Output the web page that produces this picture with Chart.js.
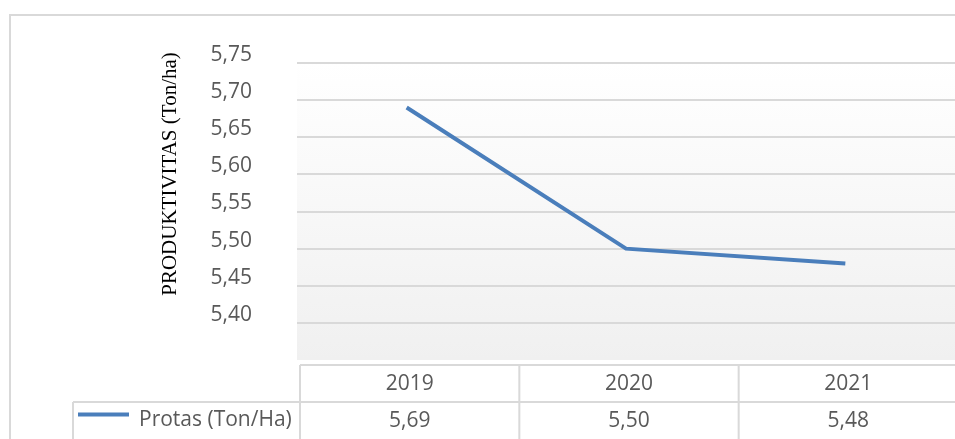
<!DOCTYPE html>
<html>
<head>
<meta charset="utf-8">
<script src="https://cdn.jsdelivr.net/npm/chart.js@4/dist/chart.umd.min.js"></script>
<style>
  html, body { margin: 0; padding: 0; background: #ffffff; }
  canvas { display: block; }
</style>
</head>
<body>
<canvas id="chart" width="955" height="439"></canvas>
<script>
// Productivity per year (Ton/Ha)
const years = ['2019', '2020', '2021'];
const protas = [5.69, 5.50, 5.48];
const seriesName = 'Protas (Ton/Ha)';
const axisTitle = 'PRODUKTIVITAS (Ton/ha)';
const yMin = 5.35;
const yMax = 5.75;
const yStep = 0.05;

const LINE_BLUE = '#4a7ebb';
const GRID = '#d9d9d9';
const TEXT = '#595959';
const SANS = '"Open Sans", "Liberation Sans", sans-serif';

const fmt = v => v.toFixed(2).replace('.', ',');

// Plot background gradient, outer frame, data table with legend key, and axis title
const framePlugin = {
  id: 'frame',
  beforeDraw(chart) {
    const { ctx, chartArea: a } = chart;
    const g = ctx.createLinearGradient(0, a.top, 0, a.bottom);
    g.addColorStop(0, '#ffffff');
    g.addColorStop(1, '#f0f0f0');
    ctx.save();
    ctx.fillStyle = g;
    ctx.fillRect(a.left, a.top, a.right - a.left, a.bottom - a.top);
    ctx.restore();
  },
  afterDraw(chart) {
    const { ctx, chartArea: a, scales: { x } } = chart;
    const W = chart.width, H = chart.height;
    ctx.save();

    // outer frame
    ctx.strokeStyle = GRID;
    ctx.lineWidth = 2;
    ctx.beginPath();
    ctx.moveTo(10, H);
    ctx.lineTo(10, 15);
    ctx.lineTo(W, 15);
    ctx.stroke();

    // data table grid
    const top = a.bottom + 5;
    const mid = a.bottom + 42;
    const half = (x.getPixelForValue(1) - x.getPixelForValue(0)) / 2;
    const tableLeft = x.getPixelForValue(0) - half + 3;
    ctx.beginPath();
    ctx.moveTo(tableLeft, top); ctx.lineTo(W, top);
    ctx.moveTo(73, mid); ctx.lineTo(W, mid);
    ctx.moveTo(73, mid); ctx.lineTo(73, H);
    years.forEach((_, i) => {
      const bx = x.getPixelForValue(i) - half + 3;
      ctx.moveTo(bx, top); ctx.lineTo(bx, H);
    });
    ctx.stroke();

    // table text
    ctx.fillStyle = TEXT;
    ctx.font = '21px ' + SANS;
    ctx.textAlign = 'center';
    ctx.textBaseline = 'middle';
    years.forEach((yr, i) => {
      const cx = x.getPixelForValue(i) + 3;
      ctx.fillText(yr, cx, (top + mid) / 2 + 1);
      ctx.fillText(fmt(protas[i]), cx, mid + 19);
    });

    // legend key
    ctx.strokeStyle = LINE_BLUE;
    ctx.lineWidth = 4;
    ctx.beginPath();
    ctx.moveTo(78, mid + 12.5);
    ctx.lineTo(129, mid + 12.5);
    ctx.stroke();
    ctx.textAlign = 'left';
    ctx.fillText(seriesName, 139, mid + 18);

    // y-axis title
    ctx.translate(170, 174);
    ctx.rotate(-Math.PI / 2);
    ctx.fillStyle = '#000000';
    ctx.font = '21px "Liberation Serif", "Times New Roman", serif';
    ctx.textAlign = 'center';
    ctx.textBaseline = 'middle';
    ctx.fillText(axisTitle, 0, 0);

    ctx.restore();
  }
};

new Chart(document.getElementById('chart'), {
  type: 'line',
  data: {
    labels: years,
    datasets: [{
      label: seriesName,
      data: protas,
      borderColor: LINE_BLUE,
      borderWidth: 4,
      pointRadius: 0,
      pointHoverRadius: 0,
      tension: 0,
      fill: false
    }]
  },
  options: {
    responsive: false,
    devicePixelRatio: 1,
    animation: false,
    events: [],
    layout: { padding: { top: 63, bottom: 79, left: 0, right: 0 } },
    plugins: {
      legend: { display: false },
      tooltip: { enabled: false },
      title: { display: false }
    },
    scales: {
      x: {
        display: false,
        offset: true
      },
      y: {
        min: yMin,
        max: yMax,
        border: { display: false },
        grid: {
          drawTicks: false,
          lineWidth: 2,
          color: c => (c.tick && c.tick.value < yMin + 0.001) ? 'rgba(0,0,0,0)' : GRID
        },
        ticks: {
          stepSize: yStep,
          padding: 45,
          labelOffset: -8,
          color: TEXT,
          font: { family: SANS, size: 21 },
          callback: v => (v < yMin + 0.001 ? '' : fmt(v))
        },
        afterFit(scale) { scale.width = 297; }
      }
    }
  },
  plugins: [framePlugin]
});
</script>
</body>
</html>
